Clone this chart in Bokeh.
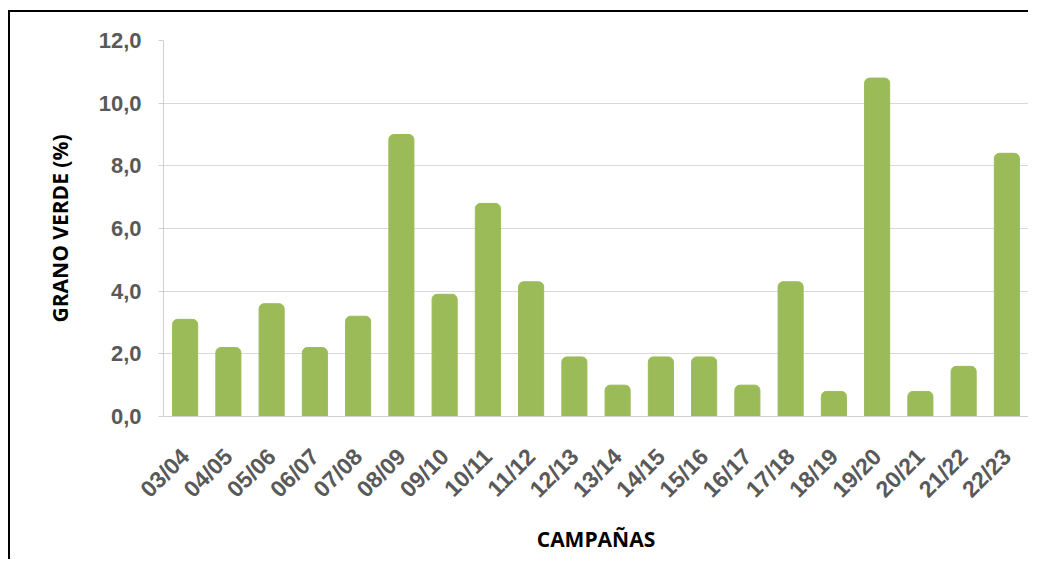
import math
from bokeh.plotting import figure
from bokeh.models import ColumnDataSource, FixedTicker, InlineStyleSheet
from bokeh.embed import file_html
from bokeh.resources import INLINE

campaigns = ["03/04", "04/05", "05/06", "06/07", "07/08", "08/09", "09/10", "10/11",
             "11/12", "12/13", "13/14", "14/15", "15/16", "16/17", "17/18", "18/19",
             "19/20", "20/21", "21/22", "22/23"]
green_grain = [3.1, 2.2, 3.6, 2.2, 3.2, 9.0, 3.9, 6.8, 4.3, 1.9, 1.0, 1.9, 1.9, 1.0,
               4.3, 0.8, 10.8, 0.8, 1.6, 8.4]
y_ticks = [0, 2, 4, 6, 8, 10, 12]

source = ColumnDataSource(data=dict(x=campaigns, top=green_grain))

border_css = InlineStyleSheet(css=":host { border-top: 2px solid black; border-left: 2px solid black; margin-top: 10px; margin-left: 8px; }")

p = figure(x_range=campaigns, y_range=(0, 12), width=1020, height=549,
           output_backend="svg", toolbar_location=None,
           min_border_left=153, min_border_top=28, min_border_right=2,
           min_border_bottom=145, stylesheets=[border_css])

p.vbar(x="x", top="top", source=source, width=0.58, color="#9BBB59",
       border_radius=(5, 5, 0, 0))

p.outline_line_color = None
p.xgrid.grid_line_color = None
p.ygrid.grid_line_color = "#D9D9D9"
p.ygrid.grid_line_width = 1

p.yaxis.ticker = FixedTicker(ticks=y_ticks)
p.yaxis.major_label_overrides = {t: f"{t:.1f}".replace(".", ",") for t in y_ticks}
p.yaxis.axis_line_color = "#D0D0D0"
p.yaxis.major_tick_line_color = "#D0D0D0"
p.yaxis.major_tick_out = 5
p.yaxis.major_tick_in = 0
p.yaxis.minor_tick_line_color = None
p.yaxis.major_label_standoff = 17
p.yaxis.major_label_text_font = "Liberation Sans"
p.yaxis.major_label_text_font_style = "bold"
p.yaxis.major_label_text_font_size = "22px"
p.yaxis.major_label_text_color = "#595959"
p.yaxis.axis_label = "GRANO VERDE (%)"
p.yaxis.axis_label_text_font = "Open Sans"
p.yaxis.axis_label_text_font_style = "bold"
p.yaxis.axis_label_text_font_size = "21px"
p.yaxis.axis_label_text_color = "black"
p.yaxis.axis_label_standoff = 22

p.xaxis.axis_line_color = "#D0D0D0"
p.xaxis.major_tick_line_color = None
p.xaxis.minor_tick_line_color = None
p.xaxis.major_label_orientation = math.pi / 4
p.xaxis.major_label_standoff = 30
p.xaxis.major_label_text_font = "Liberation Sans"
p.xaxis.major_label_text_font_style = "bold"
p.xaxis.major_label_text_font_size = "23px"
p.xaxis.major_label_text_color = "#595959"
p.xaxis.axis_label = "CAMPAÑAS"
p.xaxis.axis_label_text_font = "Open Sans"
p.xaxis.axis_label_text_font_style = "bold"
p.xaxis.axis_label_text_font_size = "21px"
p.xaxis.axis_label_text_color = "black"
p.xaxis.axis_label_standoff = 10

p.x_range.range_padding = 0

open("out.html", "w").write(file_html(p, INLINE))
